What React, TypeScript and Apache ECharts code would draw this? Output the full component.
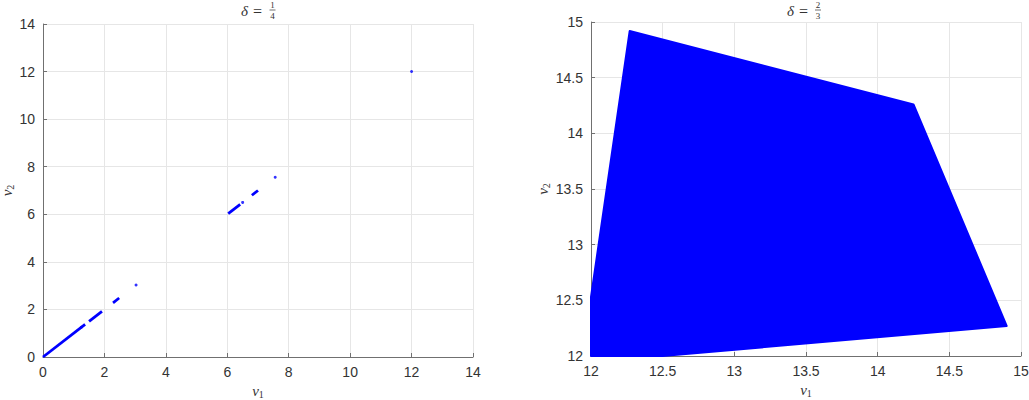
import React, { useEffect, useRef } from "react";
import * as echarts from "echarts";

// Left panel (delta = 1/4): segments of points along the diagonal v2 = v1 (start, end)
const leftSegments: [number, number][] = [
  [0, 1.37],
  [1.5, 1.92],
  [2.28, 2.48],
  [6.03, 6.42],
  [6.8, 7.0],
];
// isolated points
const leftPoints: [number, number][] = [
  [1.25, 1.25],
  [3.03, 3.03],
  [6.5, 6.5],
  [7.56, 7.56],
  [12.0, 12.0],
];
const leftTicks = [0, 2, 4, 6, 8, 10, 12, 14];

// Right panel (delta = 2/3): region vertices
const rightRegion: [number, number][] = [
  [12.0, 12.0],
  [12.5, 12.0],
  [14.9, 12.27],
  [14.25, 14.26],
  [12.27, 14.92],
  [12.0, 12.53],
];
const rightTicks = [12, 12.5, 13, 13.5, 14, 14.5, 15];

const BLUE = "#0000ff";
const AXIS = "#707070";
const LABEL = "#333333";
const GRIDC = "#e6e6e6";

const nameRich = {
  v: { fontFamily: "Liberation Serif", fontStyle: "italic", fontSize: 15, color: LABEL },
  s: { fontFamily: "Liberation Serif", fontSize: 10, color: LABEL, padding: [7, 0, 0, 0] },
};

function axis(gridIndex: number, min: number, max: number, interval: number, name: string, isY: boolean, gap: number) {
  return {
    type: "value",
    gridIndex,
    min,
    max,
    interval,
    name,
    nameLocation: "middle",
    nameGap: gap,
    nameRotate: isY ? 90 : 0,
    nameTextStyle: { rich: nameRich },
    axisLine: { show: true, onZero: false, lineStyle: { color: AXIS, width: 1 } },
    axisTick: { show: true, inside: true, length: 4, lineStyle: { color: AXIS } },
    axisLabel: { color: LABEL, fontSize: 14, fontFamily: "Liberation Sans", margin: 8 },
    splitLine: { show: true, lineStyle: { color: GRIDC, width: 1 } },
  };
}

function titleGroup(dx: number, eqx: number, fx: number, num: string, den: string) {
  return {
    type: "group",
    children: [
      { type: "text", x: dx, y: 11, style: { text: "δ", font: "italic 15px 'Liberation Serif'", fill: LABEL, textVerticalAlign: "middle" } },
      { type: "text", x: eqx, y: 11, style: { text: "=", font: "16px 'Liberation Serif'", fill: LABEL, textVerticalAlign: "middle" } },
      { type: "text", x: fx, y: 5, style: { text: num, font: "9px 'Liberation Serif'", fill: LABEL, textAlign: "center", textVerticalAlign: "middle" } },
      { type: "line", shape: { x1: fx - 3, y1: 10, x2: fx + 3, y2: 10 }, style: { stroke: LABEL, lineWidth: 0.7 } },
      { type: "text", x: fx, y: 16, style: { text: den, font: "9px 'Liberation Serif'", fill: LABEL, textAlign: "center", textVerticalAlign: "middle" } },
    ],
  };
}

export default function App() {
  const ref = useRef<HTMLDivElement>(null);
  useEffect(() => {
    document.body.style.margin = "0";
    if (!ref.current) return;
    const chart = echarts.init(ref.current, null, { renderer: "svg" });
    const segSeries = leftSegments.map(([a, b]) => ({
      type: "line",
      xAxisIndex: 0,
      yAxisIndex: 0,
      data: [[a, a], [b, b]],
      symbol: "none",
      lineStyle: { color: BLUE, width: 2.8 },
      silent: true,
    }));
    chart.setOption({
      animation: false,
      grid: [
        { left: 43, width: 430, top: 24, height: 333, outerBoundsMode: "none", containLabel: false },
        { left: 591, width: 430, top: 22, height: 334, outerBoundsMode: "none", containLabel: false },
      ],
      xAxis: [
        axis(0, leftTicks[0], leftTicks[leftTicks.length - 1], 2, "{v|v}{s|1}", false, 21),
        axis(1, rightTicks[0], rightTicks[rightTicks.length - 1], 0.5, "{v|v}{s|1}", false, 21),
      ],
      yAxis: [
        axis(0, leftTicks[0], leftTicks[leftTicks.length - 1], 2, "{v|v}{s|2}", true, 26),
        axis(1, rightTicks[0], rightTicks[rightTicks.length - 1], 0.5, "{v|v}{s|2}", true, 40),
      ],
      graphic: [titleGroup(241, 253, 272.5, "1", "4"), titleGroup(787, 799, 818, "2", "3")],
      series: [
        ...segSeries,
        {
          type: "scatter",
          xAxisIndex: 0,
          yAxisIndex: 0,
          data: leftPoints,
          symbol: "circle",
          symbolSize: 3,
          itemStyle: { color: BLUE },
          silent: true,
        },
        {
          type: "custom",
          xAxisIndex: 1,
          yAxisIndex: 1,
          data: rightRegion,
          silent: true,
          renderItem: (params: any, api: any) => {
            if (params.dataIndex !== 0) return null;
            const pts = rightRegion.map((p) => api.coord(p));
            return {
              type: "polygon",
              shape: { points: pts },
              style: { fill: BLUE, stroke: BLUE, lineWidth: 2, lineJoin: "round" },
            };
          },
        },
      ],
    });
    return () => chart.dispose();
  }, []);
  return <div ref={ref} style={{ width: 1029, height: 400 }} />;
}
